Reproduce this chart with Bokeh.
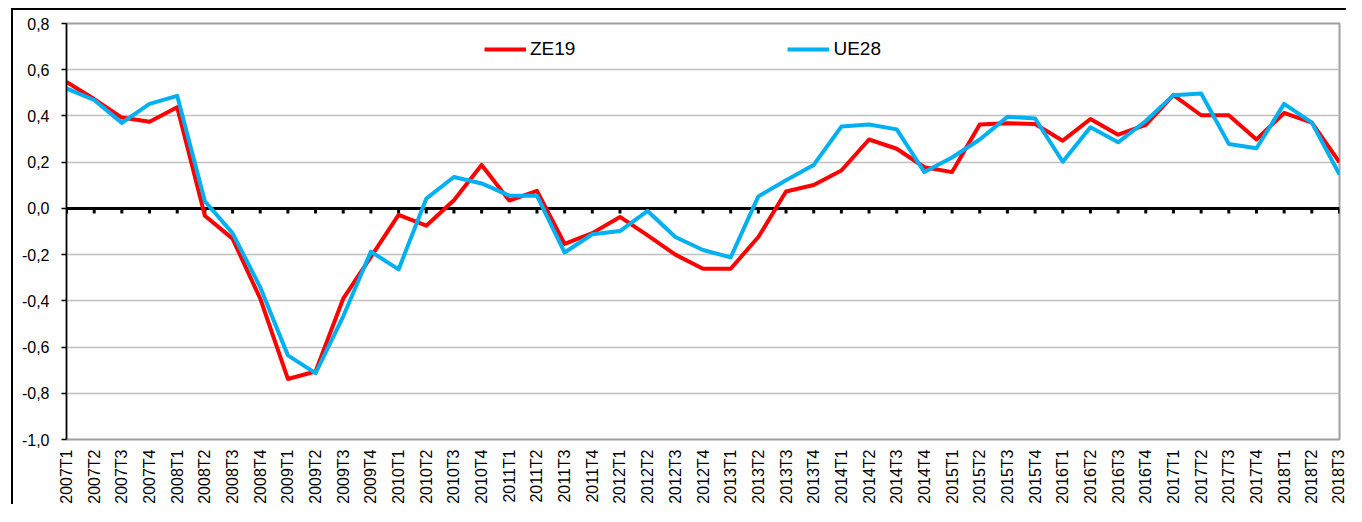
from math import pi
from bokeh.plotting import figure
from bokeh.models import (Range1d, FixedTicker, CustomJSTickFormatter, Span,
                          Legend, LegendItem, ColumnDataSource)
from bokeh.embed import file_html
from bokeh.resources import INLINE

quarters = ["2007T1", "2007T2", "2007T3", "2007T4", "2008T1", "2008T2", "2008T3", "2008T4",
            "2009T1", "2009T2", "2009T3", "2009T4", "2010T1", "2010T2", "2010T3", "2010T4",
            "2011T1", "2011T2", "2011T3", "2011T4", "2012T1", "2012T2", "2012T3", "2012T4",
            "2013T1", "2013T2", "2013T3", "2013T4", "2014T1", "2014T2", "2014T3", "2014T4",
            "2015T1", "2015T2", "2015T3", "2015T4", "2016T1", "2016T2", "2016T3", "2016T4",
            "2017T1", "2017T2", "2017T3", "2017T4", "2018T1", "2018T2", "2018T3"]

ze19 = [0.547, 0.473, 0.393, 0.375, 0.438, -0.032, -0.131, -0.39, -0.738, -0.706,
        -0.39, -0.21, -0.028, -0.075, 0.035, 0.188, 0.034, 0.076, -0.154, -0.107,
        -0.037, -0.117, -0.2, -0.261, -0.261, -0.124, 0.073, 0.101, 0.164, 0.298,
        0.258, 0.178, 0.157, 0.363, 0.368, 0.365, 0.293, 0.387, 0.319, 0.361,
        0.49, 0.403, 0.403, 0.298, 0.413, 0.371, 0.199]

ue28 = [0.519, 0.469, 0.37, 0.452, 0.487, 0.031, -0.107, -0.341, -0.636, -0.713,
        -0.467, -0.187, -0.264, 0.042, 0.136, 0.108, 0.055, 0.055, -0.191, -0.112,
        -0.098, -0.011, -0.124, -0.18, -0.212, 0.052, 0.122, 0.188, 0.354, 0.363,
        0.342, 0.157, 0.22, 0.298, 0.396, 0.389, 0.202, 0.351, 0.286, 0.378,
        0.49, 0.497, 0.279, 0.26, 0.452, 0.371, 0.146]

y_ticks = [-1.0, -0.8, -0.6, -0.4, -0.2, 0.0, 0.2, 0.4, 0.6, 0.8]

idx = list(range(len(quarters)))
src = ColumnDataSource(dict(x=idx, ze=ze19, ue=ue28, y0=[0.0] * len(idx),
                            y1=[-0.022] * len(idx)))

FONT = "Liberation Sans"

p = figure(width=1335, height=496, output_backend="svg", toolbar_location=None,
           x_range=Range1d(0, len(quarters) - 1), y_range=Range1d(-1.0, 0.8),
           min_border_left=53, min_border_right=9, min_border_top=13, min_border_bottom=66)
p.styles = {"border-top": "2px solid black", "border-left": "2px solid black",
            "margin-left": "11px", "margin-top": "8px", "box-sizing": "border-box"}

p.background_fill_color = "white"
p.border_fill_color = "white"
p.outline_line_color = "#a0a0a0"
p.outline_line_width = 2

# grid
p.xgrid.visible = False
p.ygrid.ticker = FixedTicker(ticks=[t for t in y_ticks if t != 0.0])
p.ygrid.grid_line_color = "#c0c0c0"
p.ygrid.grid_line_width = 1.5

# y axis
p.yaxis.ticker = FixedTicker(ticks=y_ticks)
p.yaxis.formatter = CustomJSTickFormatter(code="return tick.toFixed(1).replace('.', ',');")
p.yaxis.axis_line_color = "black"
p.yaxis.axis_line_width = 1.5
p.yaxis.major_tick_line_color = "black"
p.yaxis.major_tick_line_width = 1.5
p.yaxis.major_tick_out = 5
p.yaxis.major_tick_in = 0
p.yaxis.minor_tick_line_color = None
p.yaxis.major_label_standoff = 12
p.yaxis.major_label_text_font = FONT
p.yaxis.major_label_text_font_size = "16px"
p.yaxis.major_label_text_color = "black"

# x axis (labels only)
p.xaxis.ticker = FixedTicker(ticks=idx)
p.xaxis.major_label_overrides = {i: q for i, q in zip(idx, quarters)}
p.xaxis.major_label_orientation = pi / 2
p.xaxis.axis_line_color = None
p.xaxis.major_tick_line_color = None
p.xaxis.minor_tick_line_color = None
p.xaxis.major_tick_out = 0
p.xaxis.major_tick_in = 0
p.xaxis.major_label_standoff = 10
p.xaxis.major_label_text_font = FONT
p.xaxis.major_label_text_font_size = "16px"
p.xaxis.major_label_text_color = "black"

# zero line and its ticks
p.add_layout(Span(location=0, dimension="width", line_color="black", line_width=3,
                  level="underlay"))
p.segment(x0="x", y0="y0", x1="x", y1="y1", source=src, line_color="black", line_width=3)

r_ze = p.line("x", "ze", source=src, line_color="#FF0000", line_width=4, line_join="round")
r_ue = p.line("x", "ue", source=src, line_color="#00B0F0", line_width=4, line_join="round")

legend = Legend(items=[LegendItem(label="ZE19", renderers=[r_ze]),
                       LegendItem(label="UE28", renderers=[r_ue])],
                orientation="horizontal", location=(418, 379),
                padding=0, margin=0, spacing=212, glyph_width=42, glyph_height=16,
                label_standoff=4, border_line_color=None, background_fill_alpha=0,
                label_text_font=FONT, label_text_font_size="19px", label_text_color="black")
p.add_layout(legend)

open("out.html", "w").write(file_html(p, INLINE))
